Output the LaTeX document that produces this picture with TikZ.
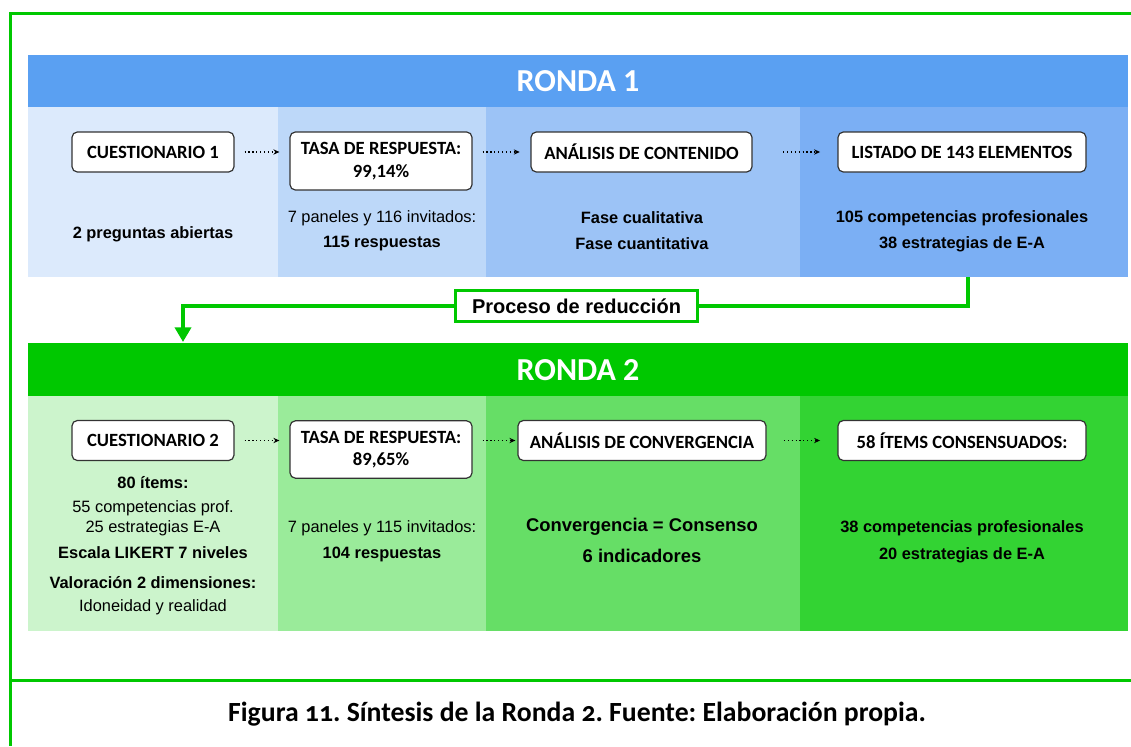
\documentclass[tikz,border=0pt]{standalone}
\usepackage{fontspec}
\setmainfont{Liberation Sans}
\newfontfamily\calfont{Carlito}
\newfontfamily\capfont[Numbers=OldStyle]{Carlito}
\usetikzlibrary{arrows.meta}
\definecolor{frameg}{RGB}{0,200,0}
\definecolor{hdrA}{RGB}{90,160,242}
\definecolor{a1}{RGB}{220,234,252}
\definecolor{a2}{RGB}{189,216,249}
\definecolor{a3}{RGB}{156,195,246}
\definecolor{a4}{RGB}{123,175,244}
\definecolor{hdrB}{RGB}{0,200,0}
\definecolor{b1}{RGB}{204,244,204}
\definecolor{b2}{RGB}{154,235,154}
\definecolor{b3}{RGB}{102,222,102}
\definecolor{b4}{RGB}{51,211,51}
\frenchspacing
\begin{document}
\begin{tikzpicture}[x=0.75pt,y=-0.75pt,
  panel/.style={inner sep=0pt, outer sep=0pt, anchor=north west},
  hdrtext/.style={text=white, font=\calfont\bfseries\fontsize{24}{28}\selectfont, inner sep=0pt},
  stepbox/.style={draw=black!80, fill=white, rounded corners=4pt, line width=0.9pt,
     minimum height=30pt, inner sep=0pt, align=center,
     font=\calfont\bfseries\fontsize{14}{17}\selectfont},
  flowarrow/.style={dotted, line width=0.9pt, -{Stealth[length=4.5pt,width=4pt]}},
  body/.style={inner sep=0pt, font=\fontsize{12.3}{14}\selectfont},
  bodyb/.style={inner sep=0pt, font=\bfseries\fontsize{12.3}{14}\selectfont},
  bigb/.style={inner sep=0pt, font=\bfseries\fontsize{13.8}{16}\selectfont},
  frameline/.style={draw=frameg, line width=2.25pt},
  redline/.style={draw=frameg, line width=3pt},
  procbox/.style={draw=frameg, line width=2.25pt, fill=white, inner sep=0pt,
     minimum width=182pt, minimum height=23pt, font=\bfseries\fontsize{15}{18}\selectfont}
]
\useasboundingbox (0,0) rectangle (1131,746);
\fill[white] (0,0) rectangle (1131,746);

% frame
\draw[frameline] (10,746) -- (10,13.5) -- (1131,13.5);
\draw[frameline] (10,680) -- (1131,680);

% ---------- Ronda 1 ----------
\node[panel, fill=hdrA, minimum width=825pt, minimum height=39pt] (h1) at (28,55) {};
\node[hdrtext] (h1t) at (578,81) {RONDA 1};
\node[panel, fill=a1, minimum width=187.5pt, minimum height=127.5pt] (r1c1) at (28,107) {};
\node[panel, fill=a2, minimum width=156pt, minimum height=127.5pt] (r1c2) at (278,107) {};
\node[panel, fill=a3, minimum width=235.5pt, minimum height=127.5pt] (r1c3) at (486,107) {};
\node[panel, fill=a4, minimum width=246pt, minimum height=127.5pt] (r1c4) at (800,107) {};

\node[stepbox, minimum width=121.5pt] (q1) at (153,152) {CUESTIONARIO 1};
\node[stepbox, minimum width=136.5pt, minimum height=43.5pt] (t1) at (381,161) {TASA DE RESPUESTA:\\99,14\%};
\node[stepbox, minimum width=165.75pt] (an1) at (641.5,152) {ANÁLISIS DE CONTENIDO};
\node[stepbox, minimum width=186pt] (l1) at (962,152) {LISTADO DE 143 ELEMENTOS};

\draw[flowarrow, shorten <=7.5pt, shorten >=7.5pt] (q1.east) -- (q1.east -| t1.west);
\draw[flowarrow, shorten <=7.5pt, shorten >=8pt] (t1.east |- an1.west) -- (an1.west);
\draw[flowarrow, shorten <=23pt, shorten >=13pt] (an1.east) -- (l1.west);

\node[bodyb] (p1) at (153,234) {2 preguntas abiertas};
\node[body] (p2a) at (382,218) {7 paneles y 116 invitados:};
\node[bodyb] (p2b) at (382,244) {115 respuestas};
\node[bodyb] (p3a) at (642,218) {Fase cualitativa};
\node[bodyb] (p3b) at (642,244) {Fase cuantitativa};
\node[bodyb] (p4a) at (962,218) {105 competencias profesionales};
\node[bodyb] (p4b) at (962,244) {38 estrategias de E-A};

% ---------- reduction connector ----------
\node[procbox] (proc) at (576.5,306) {Proceso de reducción};
\coordinate (tip) at (183,342);
\draw[redline] ([xshift=3pt]r1c4.south) |- (proc.east);
\draw[redline, -{Triangle[length=11pt,width=12pt]}] (proc.west) -| (tip);

% ---------- Ronda 2 ----------
\node[panel, fill=hdrB, minimum width=825pt, minimum height=39.75pt] (h2) at (28,343) {};
\node[hdrtext] (h2t) at (578,370) {RONDA 2};
\node[panel, fill=b1, minimum width=187.5pt, minimum height=176.25pt] (r2c1) at (28,396) {};
\node[panel, fill=b2, minimum width=156pt, minimum height=176.25pt] (r2c2) at (278,396) {};
\node[panel, fill=b3, minimum width=235.5pt, minimum height=176.25pt] (r2c3) at (486,396) {};
\node[panel, fill=b4, minimum width=246pt, minimum height=176.25pt] (r2c4) at (800,396) {};

\node[stepbox, minimum width=121.5pt] (q2) at (153,440.5) {CUESTIONARIO 2};
\node[stepbox, minimum width=136.5pt, minimum height=43pt] (t2) at (381,449.5) {TASA DE RESPUESTA:\\89,65\%};
\node[stepbox, minimum width=186pt] (an2) at (642,440.5) {ANÁLISIS DE CONVERGENCIA};
\node[stepbox, minimum width=186pt] (l2) at (962,440.5) {58 ÍTEMS CONSENSUADOS:};

\draw[flowarrow, shorten <=7.5pt, shorten >=7.5pt] (q2.east) -- (q2.east -| t2.west);
\draw[flowarrow, shorten <=7.5pt, shorten >=1.5pt] (t2.east |- an2.west) -- (an2.west);
\draw[flowarrow, shorten <=13pt, shorten >=13pt] (an2.east) -- (l2.west);

\node[bodyb] (s1) at (153,483) {80 ítems:};
\node[body] (s2) at (153,508) {55 competencias prof.};
\node[body] (s3) at (153,528) {25 estrategias E-A};
\node[bodyb] (s4) at (153,553) {Escala LIKERT 7 niveles};
\node[bodyb] (s5) at (153,583) {Valoración 2 dimensiones:};
\node[body] (s6) at (153,607) {Idoneidad y realidad};
\node[body] (u1) at (382,528) {7 paneles y 115 invitados:};
\node[bodyb] (u2) at (382,554) {104 respuestas};
\node[bigb] (v1) at (642,527) {Convergencia = Consenso};
\node[bigb] (v2) at (642,556) {6 indicadores};
\node[bodyb] (w1) at (962,528) {38 competencias profesionales};
\node[bodyb] (w2) at (962,555) {20 estrategias de E-A};

% caption
\node[inner sep=0pt, font=\capfont\bfseries\fontsize{20.8}{24}\selectfont] (cap) at (577,714)
  {Figura 11. Síntesis de la Ronda 2. Fuente: Elaboración propia.};
\end{tikzpicture}
\end{document}
